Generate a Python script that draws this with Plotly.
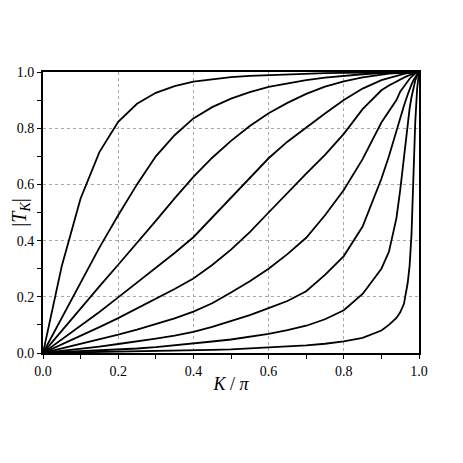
import plotly.graph_objects as go

# K / pi sample points
k_over_pi = [0, 0.05, 0.1, 0.15, 0.2, 0.25, 0.3, 0.35, 0.4, 0.45, 0.5, 0.55, 0.6, 0.65,
             0.7, 0.75, 0.8, 0.85, 0.9, 0.92, 0.94, 0.95, 0.96, 0.97, 0.975, 0.98,
             0.985, 0.99, 0.995, 1.0]

# |T_K| curves (steepest first)
t1 = [0, .31, .55, .715, .823, .887, .926, .95, .966, .975, .982, .986, .989, .992,
      .994, .996, .997, .998, .999, .999, 1, 1, 1, 1, 1, 1, 1, 1, 1, 1]
t2 = [0, .125, .255, .375, .49, .6, .70, .775, .835, .875, .905, .928, .947, .96,
      .971, .98, .987, .992, .996, .997, .998, .999, .999, 1, 1, 1, 1, 1, 1, 1]
t3 = [0, .08, .16, .237, .314, .39, .47, .55, .627, .695, .755, .808, .853, .89,
      .922, .948, .967, .981, .991, .994, .996, .997, .998, .999, .999, 1, 1, 1, 1, 1]
t4 = [0, .048, .097, .146, .198, .25, .303, .356, .412, .482, .555, .625, .693, .752,
      .803, .852, .9, .941, .971, .979, .986, .99, .993, .996, .997, .998, .999, .999, 1, 1]
t5 = [0, .03, .06, .092, .124, .158, .193, .228, .265, .313, .368, .43, .5, .57,
      .638, .705, .78, .868, .935, .952, .967, .974, .98, .986, .989, .992, .995, .997, .999, 1]
t6 = [0, .016, .032, .048, .065, .083, .102, .123, .147, .177, .215, .255, .3, .352,
      .41, .49, .58, .69, .82, .862, .9, .93, .95, .968, .976, .983, .99, .995, .998, 1]
t7 = [0, .007, .015, .023, .032, .041, .051, .062, .075, .093, .113, .135, .16, .185,
      .22, .278, .345, .45, .62, .7, .79, .84, .88, .92, .94, .955, .97, .982, .992, 1]
t8 = [0, .003, .006, .009, .012, .016, .021, .027, .034, .041, .048, .057, .068, .081,
      .097, .12, .152, .21, .3, .36, .48, .58, .7, .82, .87, .91, .945, .97, .988, 1]
t9 = [0, .001, .002, .003, .004, .005, .006, .0075, .009, .011, .013, .016, .019, .023,
      .027, .033, .041, .054, .08, .1, .125, .145, .175, .25, .31, .42, .62, .82, .94, 1]

curves = [t1, t2, t3, t4, t5, t6, t7, t8, t9]

SERIF = "Liberation Serif, Times New Roman, serif"

fig = go.Figure()
for ys in curves:
    fig.add_trace(go.Scatter(
        x=k_over_pi, y=ys, mode="lines",
        line=dict(color="black", width=1.8),
        showlegend=False, hoverinfo="skip",
    ))

axis_style = dict(
    range=[0, 1], dtick=0.2, tickformat=".1f", automargin=False,
    showline=True, linecolor="black", linewidth=2, mirror=True,
    ticks="outside", ticklen=4, tickwidth=1, tickcolor="black",
    showgrid=True, gridcolor="#a8a8a8", gridwidth=1, griddash="3px,3px",
    zeroline=False,
    minor=dict(dtick=0.1, ticks="outside", ticklen=4, tickcolor="black", showgrid=False),
    tickfont=dict(family=SERIF, size=14, color="black"),
)

fig.update_xaxes(**axis_style,
                 title=dict(text="<i>K</i> / <i>π</i>", standoff=0,
                            font=dict(family=SERIF, size=18, color="black")))
fig.update_yaxes(**axis_style,
                 title=dict(text="|<i>T</i><sub><i>K</i></sub>|", standoff=0,
                            font=dict(family=SERIF, size=20, color="black")))

# the page body adds an 8px margin, so the figure is a little smaller than the window
fig.update_layout(
    width=455, height=455,
    paper_bgcolor="white", plot_bgcolor="white",
    margin=dict(l=35, r=44, t=64, b=110),
)

fig.write_html("out.html")
